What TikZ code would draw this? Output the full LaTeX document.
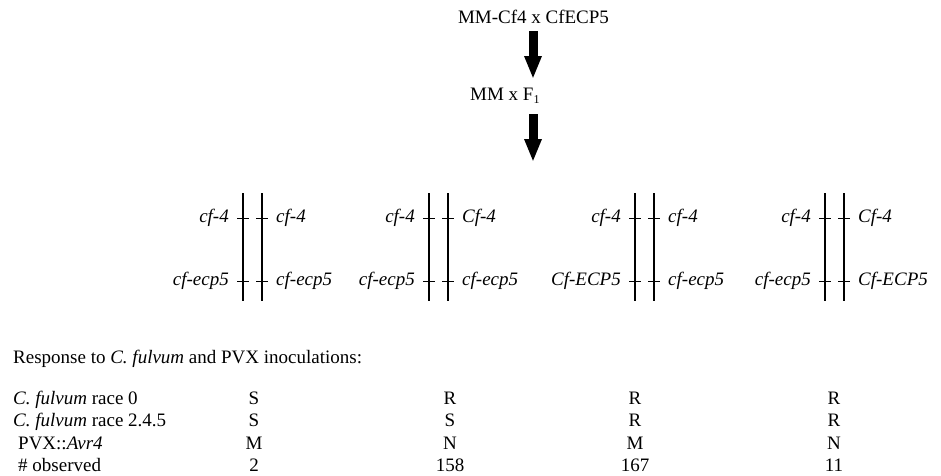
\documentclass[tikz,border=0pt]{standalone}
\usepackage{fontspec}
\setmainfont{Liberation Serif}[ItalicFont={Liberation Serif Italic},BoldFont={Liberation Serif Bold}]
\usetikzlibrary{arrows.meta}
\begin{document}
\begin{tikzpicture}[x=1pt,y=-1pt,
  txt/.style={inner sep=0pt,font=\fontsize{19}{22}\selectfont},
  chrom/.style={line width=1.4pt},
  tick/.style={line width=0.9pt},
  bigarrow/.style={line width=9pt,-{Triangle[length=23pt,width=16pt]}}]
\useasboundingbox (0,0) rectangle (941,475);
% cross
\node[txt,anchor=base] (top) at (533.5,23) {MM-Cf4 x CfECP5};
\node[txt,anchor=base west] (f1) at (470,100) {MM x F\raisebox{-0.35ex}{\fontsize{12}{12}\selectfont 1}};
\coordinate (a1s) at (533,31);
\coordinate (a1e) at (533,79);
\coordinate (a2s) at (533,114);
\coordinate (a2e) at (533,162);
\draw[bigarrow] (a1s) -- (a1e);
\draw[bigarrow] (a2s) -- (a2e);
% chromosome pairs
\foreach \i/\x/\la/\lb/\ra/\rb in {
  1/243/cf-4/cf-ecp5/cf-4/cf-ecp5,
  2/429/cf-4/cf-ecp5/Cf-4/cf-ecp5,
  3/635/cf-4/Cf-ECP5/cf-4/cf-ecp5,
  4/825/cf-4/cf-ecp5/Cf-4/Cf-ECP5}{
  \coordinate (L\i t) at (\x,193);
  \coordinate (L\i b) at (\x,301);
  \coordinate (R\i t) at (\x+19,193);
  \coordinate (R\i b) at (\x+19,301);
  \draw[chrom] (L\i t) -- (L\i b);
  \draw[chrom] (R\i t) -- (R\i b);
  \draw[tick] (\x-6,218) -- (\x+6,218);
  \draw[tick] (\x+13,218) -- (\x+25,218);
  \draw[tick] (\x-6,281) -- (\x+6,281);
  \draw[tick] (\x+13,281) -- (\x+25,281);
  \node[txt,anchor=base east] (la\i) at (\x-14,222.5) {\itshape \la};
  \node[txt,anchor=base east] (lb\i) at (\x-14,285.5) {\itshape \lb};
  \node[txt,anchor=base west] (ra\i) at (\x+33,222.5) {\itshape \ra};
  \node[txt,anchor=base west] (rb\i) at (\x+33,285.5) {\itshape \rb};
}
% table
\node[txt,anchor=base west] (resp) at (13,363) {Response to \textit{C. fulvum} and PVX inoculations:};
\node[txt,anchor=base west] (r1) at (13,404) {\textit{C. fulvum} race 0};
\node[txt,anchor=base west] (r2) at (13,426.5) {\textit{C. fulvum} race 2.4.5};
\node[txt,anchor=base west] (r3) at (18,449) {PVX::\textit{Avr4}};
\node[txt,anchor=base west] (r4) at (18,471) {\# observed};
\foreach \c/\x/\a/\b/\m/\n in {1/254/S/S/M/2, 2/450/R/S/N/158, 3/635/R/R/M/167, 4/834/R/R/N/11}{
  \node[txt,anchor=base] (c\c a) at (\x,404) {\a};
  \node[txt,anchor=base] (c\c b) at (\x,426.5) {\b};
  \node[txt,anchor=base] (c\c c) at (\x,449) {\m};
  \node[txt,anchor=base] (c\c d) at (\x,471) {\n};
}
\end{tikzpicture}
\end{document}
